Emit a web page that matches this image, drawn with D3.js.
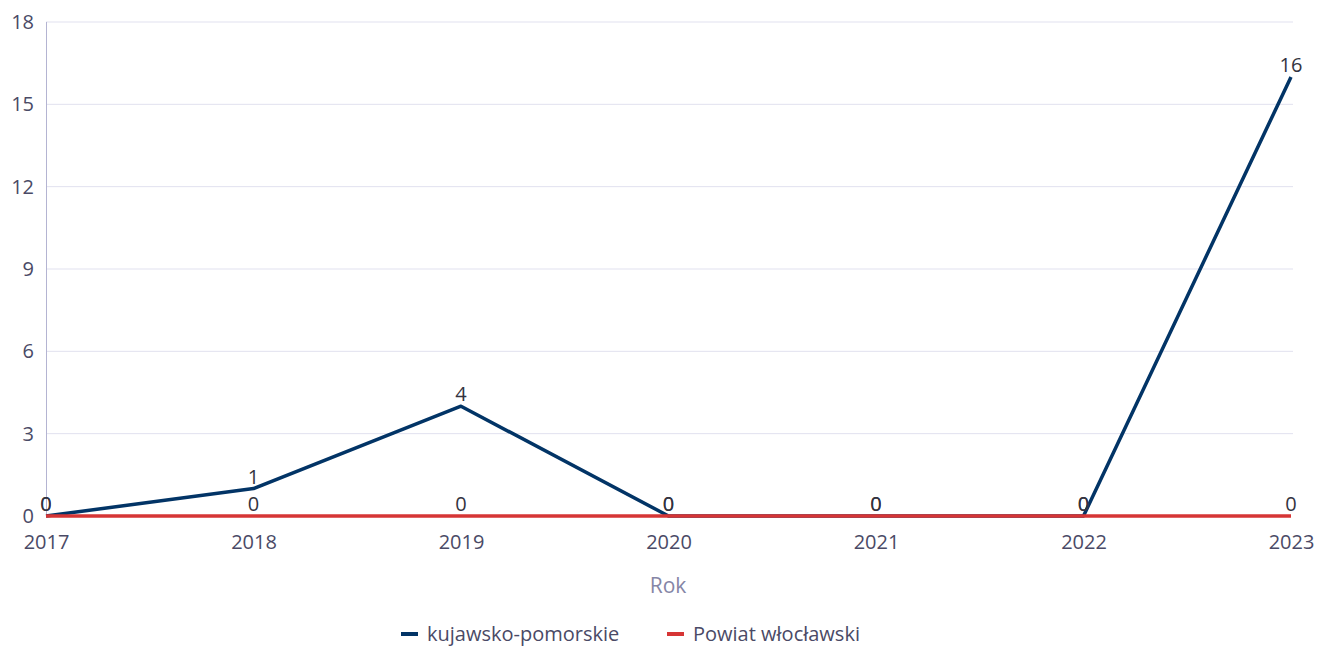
<!DOCTYPE html>
<html><head><meta charset="utf-8">
<script src="https://cdn.jsdelivr.net/npm/d3@7"></script>
<style>body{margin:0;background:#fff;font-family:"Open Sans","Noto Sans",sans-serif;}</style>
</head><body><svg id="c" width="1317" height="647"></svg>
<script>
const years = ["2017","2018","2019","2020","2021","2022","2023"];
const seriesNames = ["kujawsko-pomorskie","Powiat włocławski"];
const kujawsko = [0,1,4,0,0,0,16];
const powiat = [0,0,0,0,0,0,0];
const yTicks = [0,3,6,9,12,15,18];
const colors = ["#023466","#d63535"];

const svg = d3.select("#c");
const x = d3.scalePoint().domain(years).range([46,1291]);
const y = d3.scaleLinear().domain([0,18]).range([516,22]);
const font = '"Open Sans","Noto Sans",sans-serif';

svg.append("g").selectAll("line").data(yTicks.filter(d=>d>0)).join("line")
  .attr("x1",46).attr("x2",1293).attr("y1",d=>y(d)).attr("y2",d=>y(d))
  .attr("stroke","#e1e1ef").attr("stroke-width",1);
svg.append("line").attr("x1",46.5).attr("x2",46.5).attr("y1",y(18)).attr("y2",y(0))
  .attr("stroke","#b4b4d2").attr("stroke-width",1);

const yAxis = d3.axisLeft(y).tickValues(yTicks).tickSize(0).tickPadding(12);
const gy = svg.append("g").attr("transform","translate(46,0)").call(yAxis);
gy.select(".domain").remove();
gy.selectAll("text").attr("font-family",font).attr("font-size",20).attr("fill","#4a4a66");

const xAxis = d3.axisBottom(x).tickSize(0).tickPadding(19);
const gx = svg.append("g").attr("transform","translate(0,516)").call(xAxis);
gx.select(".domain").remove();
gx.selectAll("text").attr("font-family",font).attr("font-size",20).attr("fill","#4a4a66");

svg.append("text").attr("x",668).attr("y",593).attr("text-anchor","middle")
  .attr("font-family",font).attr("font-size",21).attr("fill","#8585a6").text("Rok");

const line = d3.line().x((d,i)=>x(years[i])).y(d=>y(d));
const data = [kujawsko, powiat];
data.forEach((s,k)=>{
  svg.append("path").datum(s).attr("d",line).attr("fill","none")
    .attr("stroke",colors[k]).attr("stroke-width",3.5).attr("stroke-linejoin","round");
});
data.forEach((s,k)=>{
  svg.append("g").selectAll("text").data(s).join("text")
    .attr("x",(d,i)=>x(years[i])).attr("y",d=>y(d)-5)
    .attr("text-anchor","middle").attr("font-family",font).attr("font-size",20)
    .attr("fill","#333340").text(d=>d);
});

const leg = [{x:401,t:seriesNames[0],c:colors[0]},{x:667,t:seriesNames[1],c:colors[1]}];
leg.forEach(l=>{
  svg.append("line").attr("x1",l.x).attr("x2",l.x+17).attr("y1",634).attr("y2",634)
    .attr("stroke",l.c).attr("stroke-width",4);
  svg.append("text").attr("x",l.x+26).attr("y",641).attr("font-family",font)
    .attr("font-size",20).attr("fill","#4a4a66").text(l.t);
});
</script></body></html>
